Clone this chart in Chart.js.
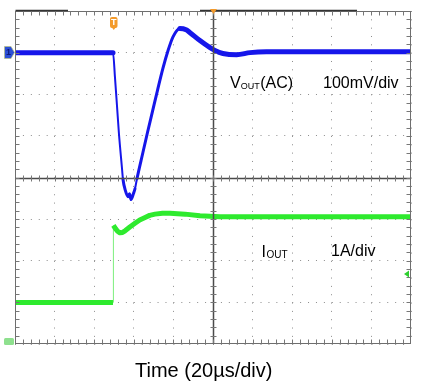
<!DOCTYPE html>
<html>
<head>
<meta charset="utf-8">
<script src="https://cdn.jsdelivr.net/npm/chart.js@4.4.1/dist/chart.umd.min.js"></script>
<style>
  body { margin: 0; background: #fff; }
  canvas { display: block; }
</style>
</head>
<body>
<canvas id="scope" width="425" height="390"></canvas>
<script>
// Tiempo en µs (20 µs por división), VOUT en mV (acoplamiento AC)
const tiempoV = [0, 49.5, 50.5, 51.5, 52.5, 54.0, 54.5, 55.8, 57.1, 57.8, 58.6, 59.8, 60.6, 61.6, 64.6, 67.0, 69.5, 72.0, 74.7, 77.3, 79.8, 83.3, 86.4, 88.4, 93.4, 98.5, 101, 105, 112, 118.7, 127, 200];
const vout = [0, 0, -60, -127, -195, -276, -303, -332, -346, -339, -353, -339, -327, -303, -240, -190, -140, -90, -38, 5, 38, 58, 55, 48, 29, 12, 5, -2, -5, 0, 2, 2];

// IOUT en A
const tiempoI = [0, 49.5, 49.7, 50.5, 51.8, 53, 54.3, 55.6, 58, 60.6, 63, 65.7, 68, 70.7, 74.5, 78.3, 85.9, 93.4, 103.5, 200];
const iout = [0, 0, 1.85, 1.79, 1.71, 1.67, 1.68, 1.72, 1.81, 1.90, 1.98, 2.04, 2.09, 2.12, 2.14, 2.14, 2.12, 2.08, 2.06, 2.06];

const tituloX = 'Time (20µs/div)';

function pendiente(ctx) {
    return Math.abs(ctx.p1.y - ctx.p0.y) / Math.max(Math.abs(ctx.p1.x - ctx.p0.x), 0.1);
}

// Marco, cruz central, marcadores y textos del osciloscopio
const decorado = {
    id: 'decorado',
    afterDatasetsDraw(chart) {
        const {ctx, chartArea: a, scales: {x, y}} = chart;
        const cx = Math.round(x.getPixelForValue(100)) + 0.5;
        const cy = Math.round(y.getPixelForValue(-300)) + 0.5;
        const pasoX = (x.getPixelForValue(20) - x.getPixelForValue(0)) / 5;
        const pasoY = (y.getPixelForValue(-700) - y.getPixelForValue(-600)) / 5;
        const L = a.left + 0.5, R = a.right - 0.5, T = a.top + 0.5, B = a.bottom - 0.5;
        ctx.save();

        // marco
        ctx.strokeStyle = '#6e6e6e';
        ctx.lineWidth = 1;
        ctx.strokeRect(L, T, R - L, B - T);
        ctx.strokeStyle = '#333';
        ctx.lineWidth = 1.5;
        ctx.beginPath();
        ctx.moveTo(L, T - 1); ctx.lineTo(68, T - 1);
        ctx.moveTo(200, T - 1); ctx.lineTo(357, T - 1);
        ctx.stroke();

        // cruz central
        ctx.strokeStyle = '#4a4a4a';
        ctx.lineWidth = 1.5;
        ctx.beginPath();
        ctx.moveTo(L, cy); ctx.lineTo(R, cy);
        ctx.moveTo(cx, T); ctx.lineTo(cx, B);
        ctx.stroke();

        // marcas menores
        ctx.strokeStyle = '#777';
        ctx.lineWidth = 1;
        ctx.beginPath();
        for (let i = 1; i < 50; i++) {
            const px = Math.round(a.left + i * pasoX) + 0.5;
            ctx.moveTo(px, cy - 3); ctx.lineTo(px, cy + 3);
            ctx.moveTo(px, T); ctx.lineTo(px, T + 4);
            ctx.moveTo(px, B); ctx.lineTo(px, B - 4);
        }
        for (let j = 1; j < 40; j++) {
            const py = Math.round(a.top + j * pasoY) + 0.5;
            ctx.moveTo(cx - 3, py); ctx.lineTo(cx + 3, py);
            ctx.moveTo(L, py); ctx.lineTo(L + 4, py);
            ctx.moveTo(R, py); ctx.lineTo(R - 4, py);
        }
        ctx.stroke();

        // marcador canal 1
        ctx.fillStyle = '#2c4fd6';
        ctx.strokeStyle = '#b8c080';
        ctx.lineWidth = 0.7;
        ctx.beginPath();
        ctx.moveTo(4.5, 46.5); ctx.lineTo(11, 46.5); ctx.lineTo(14.5, 52.5);
        ctx.lineTo(11, 58.5); ctx.lineTo(4.5, 58.5); ctx.closePath();
        ctx.fill(); ctx.stroke();
        ctx.fillStyle = '#0d1a7a';
        ctx.font = 'bold 9px "Liberation Sans", Arial, sans-serif';
        ctx.textAlign = 'center';
        ctx.textBaseline = 'middle';
        ctx.fillText('1', 8.5, 53);

        // marcador de disparo
        ctx.fillStyle = '#f39a2b';
        ctx.beginPath();
        ctx.roundRect(110, 17, 7.5, 11, 2);
        ctx.fill();
        ctx.beginPath();
        ctx.moveTo(111.5, 27); ctx.lineTo(116, 27); ctx.lineTo(113.75, 30); ctx.closePath();
        ctx.fill();
        ctx.fillStyle = '#fff';
        ctx.fillText('T', 113.75, 22.5);
        ctx.fillStyle = '#f39a2b';
        ctx.beginPath();
        ctx.moveTo(cx - 3.5, 9); ctx.lineTo(cx + 3.5, 9); ctx.lineTo(cx, 14); ctx.closePath();
        ctx.fill();

        // marcadores canal 2
        ctx.fillStyle = '#8ee08e';
        ctx.beginPath();
        ctx.roundRect(4, 338, 10, 7, 1.5);
        ctx.fill();
        ctx.fillStyle = '#2fcf2f';
        ctx.beginPath();
        ctx.moveTo(404, 274); ctx.lineTo(409, 270.5); ctx.lineTo(409, 277.5); ctx.closePath();
        ctx.fill();

        // textos
        const fuente = s => s + 'px "Liberation Sans", Arial, sans-serif';
        ctx.fillStyle = '#000';
        ctx.textAlign = 'left';
        ctx.textBaseline = 'alphabetic';
        ctx.font = fuente(16);
        ctx.fillText('V', 230, 88);
        let px = 230 + ctx.measureText('V').width;
        ctx.font = fuente(9);
        ctx.fillText('OUT', px, 89);
        px += ctx.measureText('OUT').width + 0.5;
        ctx.font = fuente(16);
        ctx.fillText('(AC)', px, 88);
        ctx.fillText('100mV/div', 323, 88);
        ctx.fillText('I', 261.5, 257);
        px = 261.5 + ctx.measureText('I').width + 0.5;
        ctx.font = fuente(10);
        ctx.fillText('OUT', px, 258);
        ctx.font = fuente(16);
        ctx.fillText('1A/div', 331, 256);
        ctx.font = fuente(20);
        ctx.fillText(tituloX, 135, 377);
        ctx.restore();
    }
};

new Chart(document.getElementById('scope'), {
    type: 'line',
    data: {
        datasets: [{
            label: 'VOUT',
            data: tiempoV.map((t, i) => ({x: t, y: vout[i]})),
            yAxisID: 'y',
            borderColor: '#1616ea',
            borderWidth: 5,
            borderJoinStyle: 'round',
            borderCapStyle: 'round',
            cubicInterpolationMode: 'monotone',
            segment: {
                borderWidth: ctx => {
                    const r = pendiente(ctx);
                    return r > 5 ? 2 : r > 1.2 ? 3 : undefined;
                }
            }
        }, {
            label: 'IOUT',
            data: tiempoI.map((t, i) => ({x: t, y: iout[i]})),
            yAxisID: 'yI',
            borderColor: '#2eea2e',
            borderWidth: 5,
            borderJoinStyle: 'round',
            tension: 0,
            segment: {
                borderWidth: ctx => pendiente(ctx) > 20 ? 1 : undefined,
                borderColor: ctx => pendiente(ctx) > 20 ? '#7cef7c' : undefined
            }
        }]
    },
    options: {
        responsive: false,
        animation: false,
        devicePixelRatio: 1,
        layout: { padding: { left: 15, top: 11, right: 14, bottom: 46 } },
        plugins: { legend: { display: false }, tooltip: { enabled: false } },
        elements: { point: { radius: 0 } },
        scales: {
            x: {
                type: 'linear', min: 0, max: 200,
                ticks: { display: false, stepSize: 20 },
                grid: { color: '#8c8c8c', drawTicks: false },
                border: { display: false, dash: [1, 7.33] }
            },
            y: {
                min: -700, max: 100,
                ticks: { display: false, stepSize: 100 },
                grid: { color: '#8c8c8c', drawTicks: false },
                border: { display: false, dash: [1, 6.92] }
            },
            yI: { min: -1, max: 7, display: false }
        }
    },
    plugins: [decorado]
});
</script>
</body>
</html>
